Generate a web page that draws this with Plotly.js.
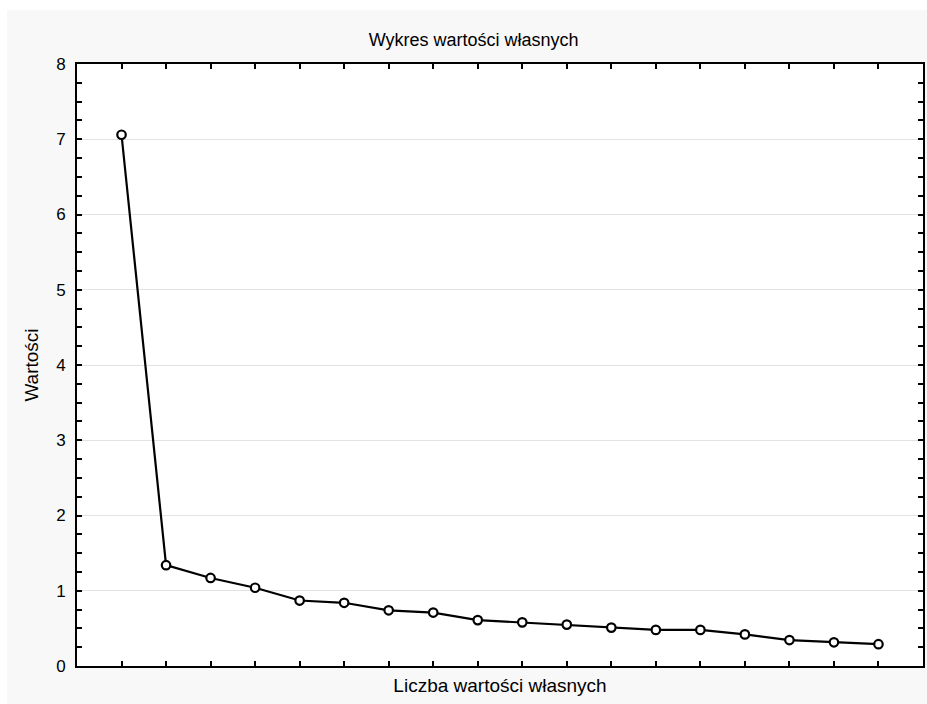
<!DOCTYPE html>
<html>
<head>
<meta charset="utf-8">
<script src="https://cdn.plot.ly/plotly-3.0.1.min.js"></script>
<style>html,body{margin:0;padding:0;background:#fff;}#chart{width:927px;height:704px;}</style>
</head>
<body>
<div id="chart"></div>
<script>
const eigenNumbers = [1,2,3,4,5,6,7,8,9,10,11,12,13,14,15,16,17,18];
const eigenValues = [7.06,1.34,1.17,1.04,0.87,0.84,0.74,0.71,0.61,0.58,0.55,0.51,0.48,0.48,0.42,0.345,0.315,0.29];
const chartTitle = 'Wykres wartości własnych';
const xTitle = 'Liczba wartości własnych';
const yTitle = 'Wartości';
const yTickVals = [0,1,2,3,4,5,6,7,8];

const font = 'Arial, "Liberation Sans", sans-serif';

const trace = {
  x: eigenNumbers,
  y: eigenValues,
  type: 'scatter',
  mode: 'lines+markers',
  line: {color: '#000', width: 2.2},
  marker: {symbol: 'circle', size: 8.5, color: '#fff', line: {color: '#000', width: 2.2}},
  hoverinfo: 'x+y',
  cliponaxis: false
};

const layout = {
  width: 927, height: 704,
  margin: {l: 77, r: 4, t: 64, b: 38},
  paper_bgcolor: '#f8f8f8',
  plot_bgcolor: '#ffffff',
  showlegend: false,
  font: {family: font, color: '#000', size: 16},
  title: {text: chartTitle, font: {family: font, size: 18, color: '#000'}, x: 0.511, xanchor: 'center', xref: 'container', y: 0.943, yanchor: 'middle', yref: 'container'},
  xaxis: {
    range: [0, 19],
    tickmode: 'array', tickvals: eigenNumbers,
    showticklabels: false,
    ticks: 'inside', ticklen: 5, tickwidth: 2, tickcolor: '#000',
    showline: true, linecolor: '#000', linewidth: 2, mirror: 'ticks',
    showgrid: false, zeroline: false, fixedrange: true,
    title: {text: xTitle, font: {family: font, size: 19, color: '#000'}, standoff: 12}
  },
  yaxis: {
    range: [0, 8],
    tickmode: 'array', tickvals: yTickVals,
    ticks: 'inside', ticklen: 5, tickwidth: 2, tickcolor: '#000',
    minor: {dtick: 0.25, tick0: 0, ticks: 'inside', ticklen: 5, tickwidth: 2, tickcolor: '#000', showgrid: false},
    showline: true, linecolor: '#000', linewidth: 2, mirror: 'ticks',
    showgrid: true, gridcolor: '#e2e2e2', gridwidth: 1,
    zeroline: false, fixedrange: true,
    tickfont: {family: font, size: 17, color: '#000'},
    ticklabelstandoff: 6,
    title: {text: yTitle, font: {family: font, size: 19, color: '#000'}, standoff: 12}
  },
  shapes: [
    {type: 'rect', xref: 'paper', yref: 'paper', x0: -0.1, x1: -0.0827, y0: -0.07, y1: 1.11, fillcolor: '#fff', line: {width: 0}, layer: 'below'},
    {type: 'rect', xref: 'paper', yref: 'paper', x0: -0.1, x1: 1.01, y0: 1.0897, y1: 1.11, fillcolor: '#fff', line: {width: 0}, layer: 'below'}
  ]
};

Plotly.newPlot('chart', [trace], layout, {staticPlot: true, displayModeBar: false});
</script>
</body>
</html>
